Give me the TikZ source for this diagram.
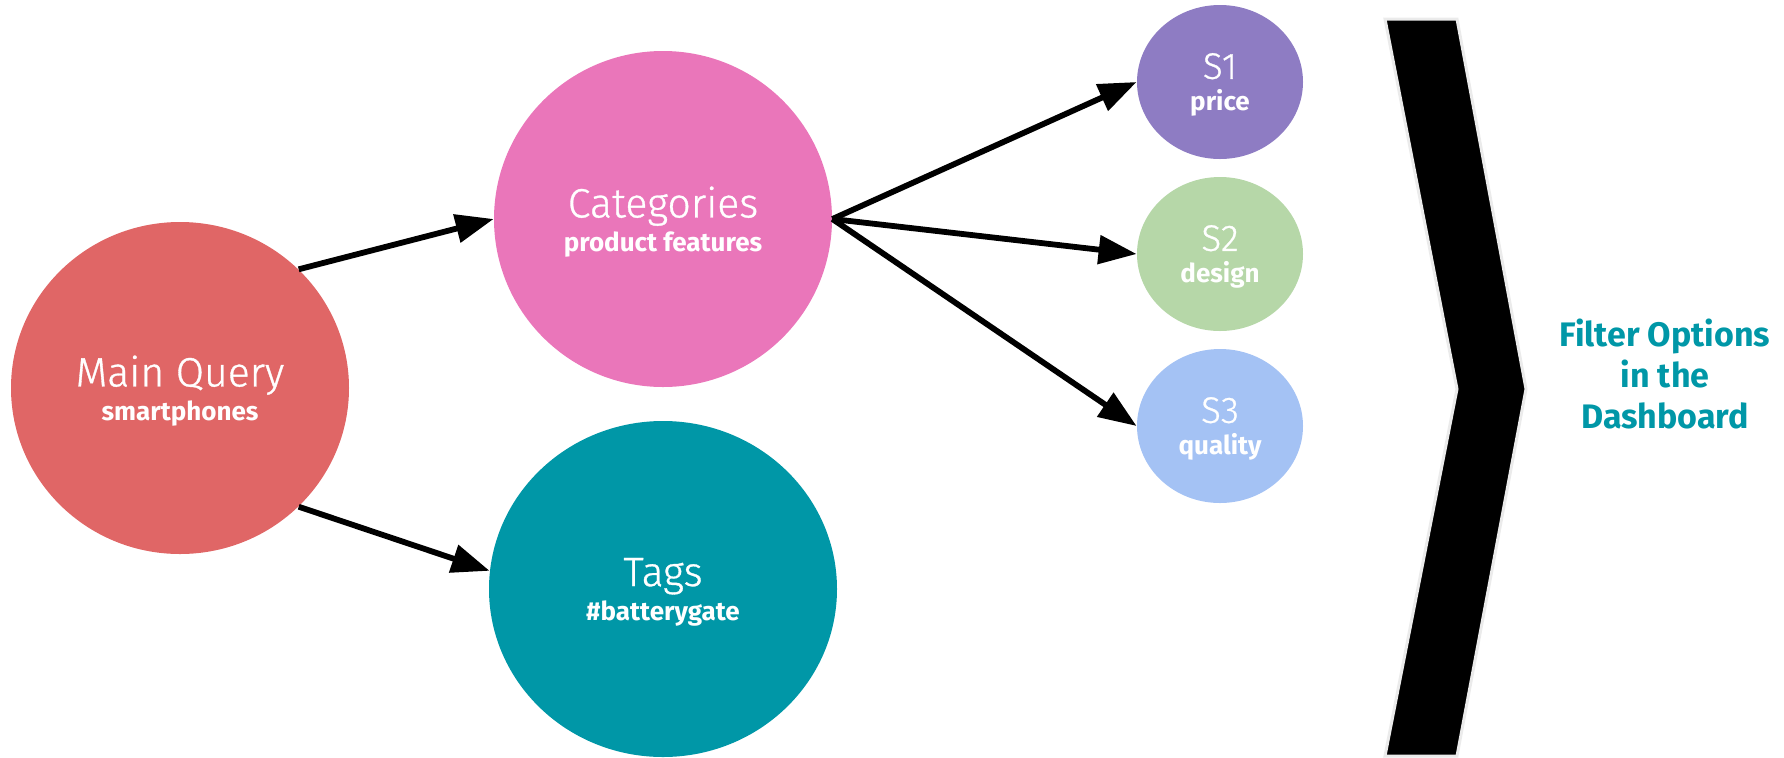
\documentclass[tikz,border=0pt]{standalone}
\usepackage{fontspec}
\setmainfont{Fira Sans}
\newfontfamily\thinfont{Fira Sans Light}[FakeBold=0.8]
\usetikzlibrary{
  arrows.meta,
  shapes.geometric,
  positioning
}
\definecolor{queryred}{HTML}{E06666}
\definecolor{catpink}{HTML}{EA76BA}
\definecolor{tagteal}{HTML}{0097A7}
\definecolor{sonepurple}{HTML}{8E7CC3}
\definecolor{stwogreen}{HTML}{B6D7A8}
\definecolor{sthreeblue}{HTML}{A4C2F4}
\newcommand{\bubbletitle}[2]{{\thinfont\mdseries\fontsize{#1}{#1}\selectfont #2}}

\begin{document}
\begin{tikzpicture}[
      x=0.5pt,y=-0.5pt,
      bubble/.style={
         ellipse,
         inner sep=0pt,
         align=center,
         text=white,
         text depth=-3pt,
         font=\bfseries\fontsize{13}{17}\selectfont
      },
      big/.style={bubble, minimum width=169pt, minimum height=166pt},
      small/.style={bubble, minimum width=83pt, minimum height=77pt,
         font=\bfseries\fontsize{13}{16}\selectfont},
      link/.style={-{Triangle[length=19pt,width=14pt]}, line width=2.9pt},
      chevron/.style={fill=black, draw=black!8, line width=1.5pt, line join=miter}
    ]
    \useasboundingbox (0,0) rectangle (1784,757);
    % left part
    \node (query) [big, fill=queryred] at (180,388)
       {\bubbletitle{20.5}{Main Query}\\smartphones};
    \node (categories) [big, fill=catpink, minimum height=168pt] at (663,219)
       {\bubbletitle{20.5}{Categories}\\product features};
    \node (tags) [big, fill=tagteal, minimum width=174pt, minimum height=168pt] at (663,589)
       {\bubbletitle{20.5}{Tags}\\\#batterygate};
    % sub categories
    \node (s1) [small, fill=sonepurple] at (1220,82)
       {\bubbletitle{18.5}{S1}\\price};
    \node (s2) [small, fill=stwogreen] at (1220,254)
       {\bubbletitle{18.5}{S2}\\design};
    \node (s3) [small, fill=sthreeblue] at (1220,426)
       {\bubbletitle{18.5}{S3}\\quality};
    % dashboard
    \draw[chevron] (1385,19) -- (1457,19) -- (1526,389) -- (1457,756)
       -- (1385,756) -- (1457,389) -- cycle;
    \node (filter) [align=center, text=tagteal, font=\bfseries\fontsize{17}{20.5}\selectfont]
       at (1665,374) {Filter Options\\in the\\Dashboard};

    \draw[link] (query.45) -- (categories.west);
    \draw[link] (query.-45) -- (tags.174);
    \draw[link] (categories.east) -- (s1.west);
    \draw[link] (categories.east) -- (s2.west);
    \draw[link] (categories.east) -- (s3.west);
\end{tikzpicture}
\end{document}
